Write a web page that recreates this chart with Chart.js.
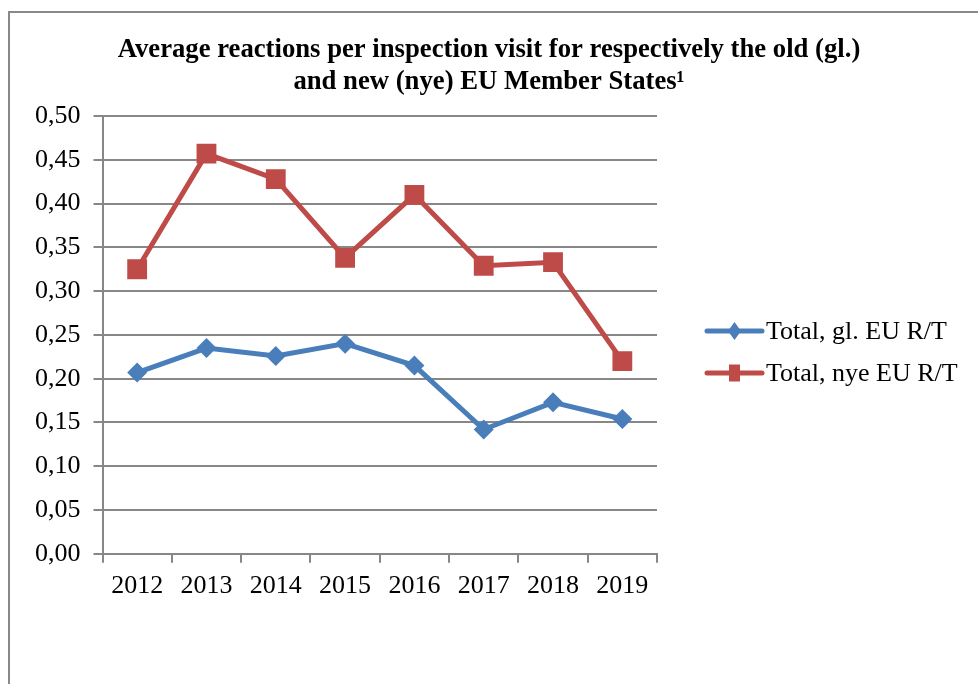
<!DOCTYPE html>
<html><head><meta charset="utf-8">
<script src="https://cdn.jsdelivr.net/npm/chart.js@4/dist/chart.umd.min.js"></script>
<style>html,body{margin:0;padding:0;background:#fff;overflow:hidden}</style>
</head><body>
<canvas id="c" width="978" height="684"></canvas>
<script>
const categories = ['2012', '2013', '2014', '2015', '2016', '2017', '2018', '2019'];
const oldMemberStates = [0.207, 0.235, 0.226, 0.240, 0.215, 0.142, 0.173, 0.154];
const newMemberStates = [0.325, 0.457, 0.428, 0.338, 0.410, 0.329, 0.333, 0.220];
const seriesLabels = ['Total, gl. EU R/T', 'Total, nye EU R/T'];
const titleLines = ['Average reactions per inspection visit for respectively the old (gl.)', 'and new (nye) EU Member States\u00B9'];
const yMin = 0, yMax = 0.5, yStep = 0.05;

const BLUE = '#4a7ebb', RED = '#be4b48', GRID = '#878787';
const SERIF = '"Liberation Serif", "Times New Roman", serif';

const borderPlugin = {
  id: 'outerBorder',
  beforeDraw(chart) {
    const ctx = chart.ctx;
    ctx.save();
    ctx.fillStyle = '#fff';
    ctx.fillRect(0, 0, chart.width, chart.height);
    ctx.strokeStyle = '#898989';
    ctx.lineWidth = 2;
    ctx.strokeRect(9, 12, 1000, 700);
    ctx.restore();
  }
};

const titlePlugin = {
  id: 'centeredTitle',
  afterDraw(chart) {
    const ctx = chart.ctx;
    ctx.save();
    ctx.fillStyle = '#000';
    ctx.font = 'bold 26.7px ' + SERIF;
    ctx.textAlign = 'center';
    ctx.textBaseline = 'alphabetic';
    titleLines.forEach((t, i) => ctx.fillText(t, chart.width / 2, 57 + i * 31.5));
    ctx.restore();
  }
};

function legendMarker(ctx, style, x, y, color) {
  ctx.fillStyle = color;
  ctx.beginPath();
  if (style === 'rect') {
    ctx.rect(x - 5.5, y - 8.5, 11, 17);
  } else {
    ctx.moveTo(x, y - 9); ctx.lineTo(x + 6.5, y); ctx.lineTo(x, y + 9); ctx.lineTo(x - 6.5, y); ctx.closePath();
  }
  ctx.fill();
}

const legendPlugin = {
  id: 'lineLegend',
  afterDraw(chart) {
    const ctx = chart.ctx, a = chart.chartArea;
    chart.data.datasets.forEach((ds, i) => {
      const y = a.top + 215 + i * 42;
      const x0 = a.right + 50, x1 = x0 + 55;
      ctx.save();
      ctx.strokeStyle = ds.borderColor; ctx.lineWidth = 5; ctx.lineCap = 'round';
      ctx.beginPath(); ctx.moveTo(x0, y); ctx.lineTo(x1, y); ctx.stroke();
      legendMarker(ctx, ds.pointStyle, (x0 + x1) / 2, y, ds.borderColor);
      ctx.fillStyle = '#000';
      ctx.font = '26px ' + SERIF;
      ctx.textBaseline = 'middle';
      ctx.textAlign = 'left';
      ctx.fillText(ds.label, x1 + 4, y + 1);
      ctx.restore();
    });
  }
};

new Chart(document.getElementById('c'), {
  type: 'line',
  data: {
    labels: categories,
    datasets: [
      { label: seriesLabels[0], data: oldMemberStates, borderColor: BLUE, backgroundColor: BLUE,
        borderWidth: 5, pointStyle: 'rectRot', pointRadius: 10, pointHoverRadius: 10,
        pointBorderWidth: 0, tension: 0 },
      { label: seriesLabels[1], data: newMemberStates, borderColor: RED, backgroundColor: RED,
        borderWidth: 5, pointStyle: 'rect', pointRadius: 14, pointHoverRadius: 14,
        pointBorderWidth: 0, tension: 0 }
    ]
  },
  options: {
    responsive: false,
    animation: false,
    devicePixelRatio: 1,
    layout: { padding: { left: 22, right: 321, top: 116, bottom: 74 } },
    plugins: {
      legend: { display: false },
      tooltip: { enabled: false },
      title: { display: false }
    },
    scales: {
      x: {
        offset: true,
        grid: { offset: true, drawOnChartArea: false, drawTicks: true, tickLength: 9, color: GRID, lineWidth: 2 },
        border: { color: GRID, width: 2 },
        ticks: { color: '#000', font: { family: SERIF, size: 26 }, padding: 8, maxRotation: 0, autoSkip: false }
      },
      y: {
        min: yMin, max: yMax,
        grid: { color: GRID, lineWidth: 2, tickLength: 9, drawTicks: true },
        border: { color: GRID, width: 2 },
        ticks: {
          stepSize: yStep, color: '#000', padding: 13,
          font: { family: SERIF, size: 26 },
          callback: v => Number(v).toFixed(2).replace('.', ',')
        }
      }
    }
  },
  plugins: [borderPlugin, titlePlugin, legendPlugin]
});
</script>
</body></html>
